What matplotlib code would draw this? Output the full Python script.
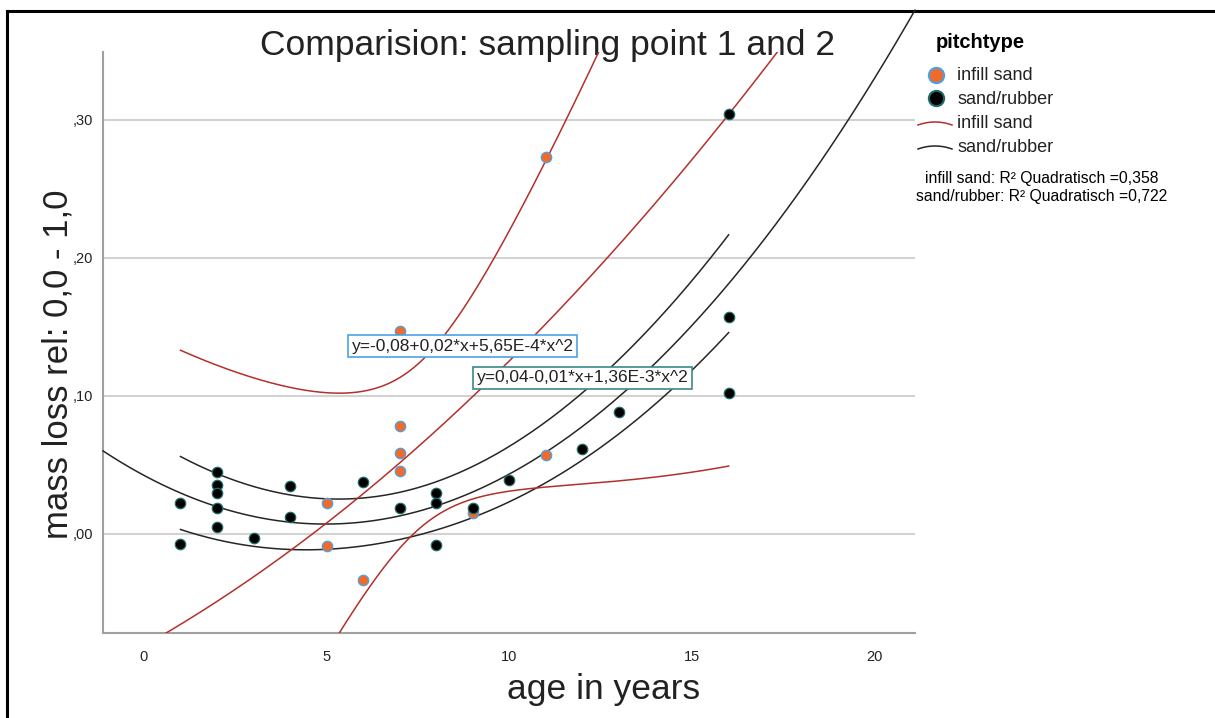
import numpy as np
import matplotlib.pyplot as plt

plt.rcParams['font.family'] = ['Liberation Sans', 'DejaVu Sans']

# infill sand samples (age in years, relative mass loss)
age_sand = [5, 5, 6, 7, 7, 7, 7, 9, 11, 11]
loss_sand = [0.0225, -0.0087, -0.0333, 0.0587, 0.0457, 0.078, 0.147, 0.0152, 0.273, 0.057]

# sand/rubber samples
age_rubber = [1, 1, 2, 2, 2, 2, 2, 3, 4, 4, 6, 7, 8, 8, 8, 9, 10, 12, 13, 16, 16, 16]
loss_rubber = [0.0225, -0.0072, 0.045, 0.0355, 0.030, 0.019, 0.005, -0.003, 0.035, 0.0123,
               0.0377, 0.019, 0.0297, 0.0225, -0.008, 0.019, 0.039, 0.0616, 0.088,
               0.304, 0.157, 0.102]

y_ticks = [0.0, 0.1, 0.2, 0.3]
y_tick_labels = [',00', ',10', ',20', ',30']
x_ticks = [0, 5, 10, 15, 20]

eq_sand = 'y=-0,08+0,02*x+5,65E-4*x^2'
eq_rubber = 'y=0,04-0,01*x+1,36E-3*x^2'
r2_sand = 'infill sand: R² Quadratisch =0,358'
r2_rubber = 'sand/rubber: R² Quadratisch =0,722'

c_orange = '#f06a2c'
c_blue_edge = '#4aa2e6'
c_teal_edge = '#1f6b6b'
c_red = '#b3302c'
c_black = '#262626'


def quad_fit(x, y, xs, t):
    # quadratic least squares fit with a 95% band like the SPSS output
    x = np.asarray(x, float)
    y = np.asarray(y, float)
    X = np.vander(x, 3)
    coef = np.linalg.lstsq(X, y, rcond=None)[0]
    resid = y - X @ coef
    s = np.sqrt((resid ** 2).sum() / (len(x) - 3))
    sxx = ((x - x.mean()) ** 2).sum()
    yhat = np.polyval(coef, xs)
    hw = t * s * np.sqrt(1 / len(x) + (xs - x.mean()) ** 2 / sxx)
    return yhat, yhat - hw, yhat + hw


W, H = 1215, 718
fig = plt.figure(figsize=(W / 100, H / 100), dpi=100)

# overlay in pixel coordinates for title, labels, legend and frame
ov = fig.add_axes([0, 0, 1, 1])
ov.set_xlim(0, W)
ov.set_ylim(H, 0)
ov.axis('off')

ax = fig.add_axes([103 / W, 1 - 633 / H, (915 - 103) / W, (633 - 52) / H])
ax.set_facecolor('none')

xmin, xmax = -1.12, 21.1
ax.set_xlim(xmin, xmax)
ax.set_ylim(-0.0717, 0.349)

x_full = np.linspace(xmin, xmax, 300)
x_band = np.linspace(1, 16, 300)

fit_s, _, _ = quad_fit(age_sand, loss_sand, x_full, 2.365)
_, lo_s, hi_s = quad_fit(age_sand, loss_sand, x_band, 2.365)
fit_r, _, _ = quad_fit(age_rubber, loss_rubber, x_full, 2.093)
_, lo_r, hi_r = quad_fit(age_rubber, loss_rubber, x_band, 2.093)

# the sand/rubber fit runs past the top of the plot area, as in SPSS
ax.plot(x_full, fit_r, color=c_black, lw=1.1, zorder=3, clip_on=False)
ax.plot(x_band, lo_r, color=c_black, lw=1.1, zorder=3)
ax.plot(x_band, hi_r, color=c_black, lw=1.1, zorder=3)
ax.plot(x_full, fit_s, color=c_red, lw=1.1, zorder=3)
ax.plot(x_band, lo_s, color=c_red, lw=1.1, zorder=3)
ax.plot(x_band, hi_s, color=c_red, lw=1.1, zorder=3)

ax.plot(age_sand, loss_sand, 'o', ms=7.5, mfc=c_orange, mec=c_blue_edge, mew=0.9, zorder=4)
ax.plot(age_rubber, loss_rubber, 'o', ms=7.5, mfc='black', mec=c_teal_edge, mew=0.9, zorder=4)

ax.text(5.68, 0.136, eq_sand, fontsize=12.5, va='center', ha='left', zorder=6, color='#222222',
        bbox=dict(boxstyle='square,pad=0.22', fc='white', ec=c_blue_edge, lw=1.2))
ax.text(9.1, 0.113, eq_rubber, fontsize=12.5, va='center', ha='left', zorder=6, color='#222222',
        bbox=dict(boxstyle='square,pad=0.22', fc='white', ec='#3a8a8a', lw=1.2))

ax.set_yticks(y_ticks)
ax.set_yticklabels(y_tick_labels)
ax.set_xticks(x_ticks)
ax.tick_params(length=0, labelsize=10.5, colors='#222222')
ax.tick_params(axis='y', pad=7)
ax.tick_params(axis='x', pad=12)
ax.grid(axis='y', color='#d2d2d2', lw=1.5)
ax.set_axisbelow(True)
for side in ['top', 'right']:
    ax.spines[side].set_visible(False)
for side in ['left', 'bottom']:
    ax.spines[side].set_color('#a0a0a0')
    ax.spines[side].set_linewidth(1.5)

ov.plot([7, 7], [11, H], color='black', lw=2.2)
ov.plot([7, W], [11, 11], color='black', lw=2.2)

ov.text(547, 45, 'Comparision: sampling point 1 and 2', fontsize=25.5, ha='center', va='center', color='#222222')
ov.text(604, 690, 'age in years', fontsize=25.5, ha='center', va='center', color='#222222')
ov.text(58, 364, 'mass loss rel: 0,0 - 1,0', fontsize=25, ha='center', va='center', rotation=90, color='#222222')

ov.text(936, 43, 'pitchtype', fontsize=14.5, fontweight='bold', ha='left', va='center')
ov.plot([936], [75], 'o', ms=11, mfc=c_orange, mec=c_blue_edge, mew=1.5)
ov.plot([936], [98], 'o', ms=11, mfc='black', mec=c_teal_edge, mew=1.5)
ov.text(957, 76, 'infill sand', fontsize=13, ha='left', va='center', color='#222222')
ov.text(957, 100, 'sand/rubber', fontsize=13, ha='left', va='center', color='#222222')
arc = np.linspace(-1, 1, 30)
ov.plot(935 + 17 * arc, 122 + 3 * arc ** 2, color=c_red, lw=1.1)
ov.plot(935 + 17 * arc, 146 + 3 * arc ** 2, color=c_black, lw=1.1)
ov.text(957, 124, 'infill sand', fontsize=13, ha='left', va='center', color='#222222')
ov.text(957, 147, 'sand/rubber', fontsize=13, ha='left', va='center', color='#222222')
ov.text(1042, 178, r2_sand, fontsize=11.3, ha='center', va='center')
ov.text(1042, 197, r2_rubber, fontsize=11.3, ha='center', va='center')

fig.savefig('out.png', dpi=100)
